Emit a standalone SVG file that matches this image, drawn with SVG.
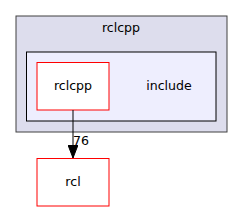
<svg xmlns="http://www.w3.org/2000/svg" width="243" height="212" viewBox="0 0 243 212">
<style>
text{font-family:"DejaVu Sans","Liberation Sans",sans-serif;font-size:12.6px;fill:#000;text-anchor:middle}
.node{fill:#fff;stroke:#ff0000;stroke-width:1}
</style>
<defs>
<marker id="arr" markerWidth="13" markerHeight="10" refX="13" refY="5" orient="auto" markerUnits="userSpaceOnUse" viewBox="0 0 13 10">
<path d="M0,0L13,5L0,10Z" fill="#000" stroke="#000"/>
</marker>
</defs>
<rect width="243" height="212" fill="#fff"/>
<g id="cluster_rclcpp">
<rect x="16" y="16" width="211" height="116" fill="#dddded" stroke="#404040" stroke-width="1"/>
<text x="121" y="32">rclcpp</text>
</g>
<g id="cluster_include">
<rect x="26.5" y="52" width="189.5" height="69" fill="#eeeefe" stroke="#000" stroke-width="1"/>
<text x="169" y="90">include</text>
</g>
<g id="node_rclcpp">
<rect class="node" x="37" y="62.5" width="72" height="47.5"/>
<text x="73" y="90">rclcpp</text>
</g>
<g id="node_rcl">
<rect class="node" x="37" y="158.5" width="72" height="47.5"/>
<text x="73" y="186">rcl</text>
</g>
<g id="edges">
<line x1="73" y1="110" x2="73" y2="158" stroke="#000" stroke-width="1" marker-end="url(#arr)"/>
<text x="81" y="145">76</text>
</g>
</svg>
